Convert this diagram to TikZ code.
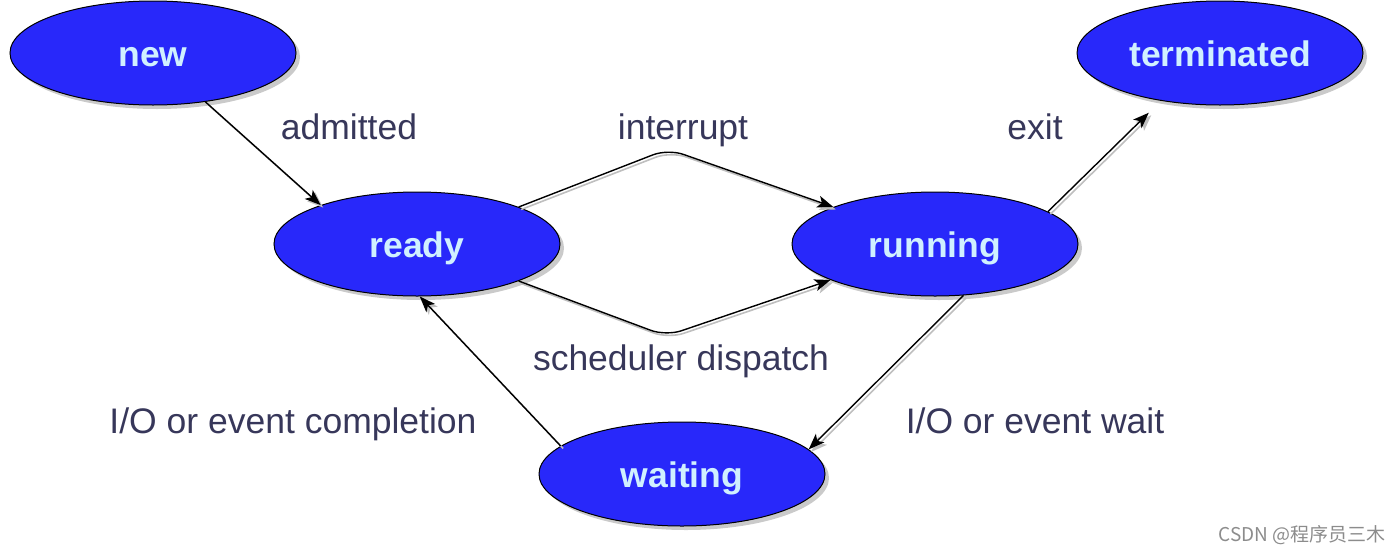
\documentclass[tikz,border=0pt]{standalone}
\usepackage{fontspec}
\setmainfont{Liberation Sans}
\newfontfamily\cjk{Noto Sans CJK SC}
\usetikzlibrary{shapes.geometric,shadows,arrows.meta}
\definecolor{stfill}{RGB}{40,40,250}
\definecolor{sttext}{RGB}{208,240,255}
\definecolor{lbl}{RGB}{55,55,90}
\tikzset{
  state/.style={ellipse, draw=black, line width=1pt, fill=stfill,
    minimum width=286pt, minimum height=104pt, inner sep=0pt,
    text=sttext, font=\fontsize{35.5}{40}\selectfont\bfseries,
    text height=26pt, text depth=0pt,
    drop shadow={shadow xshift=4pt, shadow yshift=-4pt, fill=black!35, opacity=0.6}},
  lab/.style={anchor=base, text=lbl, font=\fontsize{35.5}{40}\selectfont, inner sep=0pt},
  conn/.style={line width=1.4pt, -{Stealth[length=16pt,width=12pt,inset=4pt]},
    preaction={draw=black!25, line width=1.6pt, transform canvas={shift={(2.5pt,-2.5pt)}}}},
}
\begin{document}
\begin{tikzpicture}[x=1pt,y=1pt]
\useasboundingbox (0,0) rectangle (1400,-552);
\node[state] (new) at (153,-53) {new};
\node[state] (ready) at (417,-244) {ready};
\node[state] (running) at (935,-244) {running};
\node[state] (term) at (1220,-53) {terminated};
\node[state] (wait) at (682,-474) {waiting};

\coordinate (top) at (668,-149);
\coordinate (bot) at (666,-336);

\draw[conn] (new.-43) -- (ready.158);
\draw[conn, rounded corners=16pt] (ready.20) -- (top) -- (running.160.5);
\draw[conn, rounded corners=16pt] (ready.-20) -- (bot) -- (running.199.5);
\draw[conn, shorten >=17pt] (running.16.5) -- (term.219);
\draw[conn] (running.-61) -- (wait.11);
\draw[conn] (wait.167) -- (ready.-87);

\node[lab] (l1) at (349,-139) {admitted};
\node[lab] (l2) at (683,-139) {interrupt};
\node[lab] (l3) at (1035,-139) {exit};
\node[lab] (l4) at (681,-370) {scheduler dispatch};
\node[lab] (l5) at (293,-433) {I/O or event completion};
\node[lab] (l6) at (1035,-433) {I/O or event wait};
\node[anchor=base, inner sep=0pt, text=black!45, font=\cjk\fontsize{19}{22}\selectfont] (wm) at (1302,-541) {CSDN @程序员三木};
\end{tikzpicture}
\end{document}
